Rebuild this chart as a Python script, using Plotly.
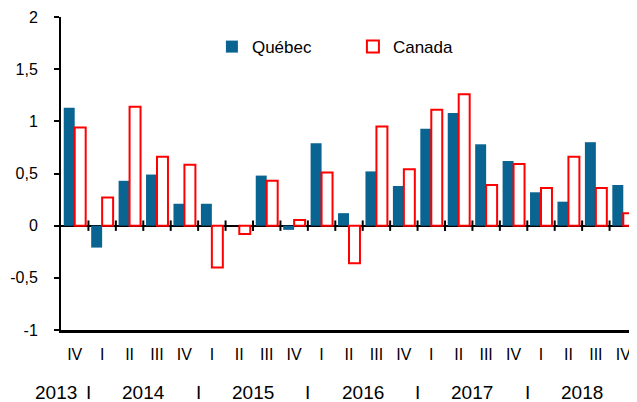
import plotly.graph_objects as go

# quarters from 2013 IV to 2018 IV
quarters = ["IV", "I", "II", "III", "IV", "I", "II", "III", "IV", "I", "II",
            "III", "IV", "I", "II", "III", "IV", "I", "II", "III", "IV"]
quebec = [1.13, -0.21, 0.43, 0.49, 0.21, 0.21, 0.0, 0.48, -0.04, 0.79, 0.12,
          0.52, 0.38, 0.93, 1.08, 0.78, 0.62, 0.32, 0.23, 0.80, 0.39]
canada = [0.94, 0.27, 1.14, 0.66, 0.585, -0.40, -0.08, 0.43, 0.055, 0.51, -0.36,
          0.95, 0.54, 1.11, 1.26, 0.39, 0.59, 0.36, 0.66, 0.36, 0.12]
years = ["2013", "2014", "2015", "2016", "2017", "2018"]
year_pos = [-0.7, 2.5, 6.5, 10.5, 14.5, 18.5]
year_sep = [0.5, 4.5, 8.5, 12.5, 16.5]

y_ticks = [-1, -0.5, 0, 0.5, 1, 1.5, 2]
y_text = ["-1", "-0,5", "0", "0,5", "1", "1,5", "2"]

FONT = "Liberation Sans, Arial, sans-serif"
x = list(range(len(quarters)))
n = len(quarters)


def to_paper(v):
    return (v + 0.5) / n


fig = go.Figure([
    go.Bar(x=x, y=quebec, name="Québec", marker=dict(color="#0A6491", line=dict(width=0))),
    go.Bar(x=x, y=canada, name="Canada",
           marker=dict(color="white", line=dict(color="#FF0000", width=2))),
])

# the page body keeps its default 8px margin, so the figure is drawn 8px smaller
fig.update_layout(
    width=629, height=394,
    margin=dict(l=53, r=0, t=9, b=72),
    plot_bgcolor="white", paper_bgcolor="white",
    font=dict(family=FONT, size=16, color="black"),
    barmode="group", bargap=0.2, bargroupgap=0,
    showlegend=True,
    legend=dict(orientation="h", x=0.262, xanchor="left", y=0.904, yanchor="middle",
                font=dict(size=17), entrywidth=96, entrywidthmode="pixels",
                bgcolor="rgba(0,0,0,0)", itemclick=False),
)

fig.update_xaxes(
    range=[-0.5, 20.5], tickvals=x, ticktext=quarters,
    showline=True, linecolor="black", linewidth=3, ticks="", showgrid=False,
    zeroline=False, ticklabelstandoff=8, automargin=False,
)
fig.update_yaxes(
    range=[-1, 2], tickvals=y_ticks, ticktext=y_text,
    showline=True, linecolor="black", linewidth=2, ticks="outside", ticklen=5,
    tickwidth=2, tickcolor="black", showgrid=False, ticklabelstandoff=13,
    zeroline=True, zerolinecolor="black", zerolinewidth=2, automargin=False,
)

# tick marks crossing the zero line between quarters
for b in range(n - 1):
    fig.add_shape(type="line", xref="x", yref="y", x0=b + 0.5, x1=b + 0.5,
                  y0=-0.05, y1=0.05, line=dict(color="black", width=2))

# year row
for yr, p in zip(years, year_pos):
    fig.add_annotation(text=yr, x=to_paper(p), xref="paper", y=-0.201, yref="paper",
                       showarrow=False, font=dict(size=19), xanchor="center",
                       yanchor="middle")
for s in year_sep:
    fig.add_annotation(text="I", x=to_paper(s), xref="paper", y=-0.201, yref="paper",
                       showarrow=False, font=dict(size=19), xanchor="center",
                       yanchor="middle")

fig.write_html("out.html")
